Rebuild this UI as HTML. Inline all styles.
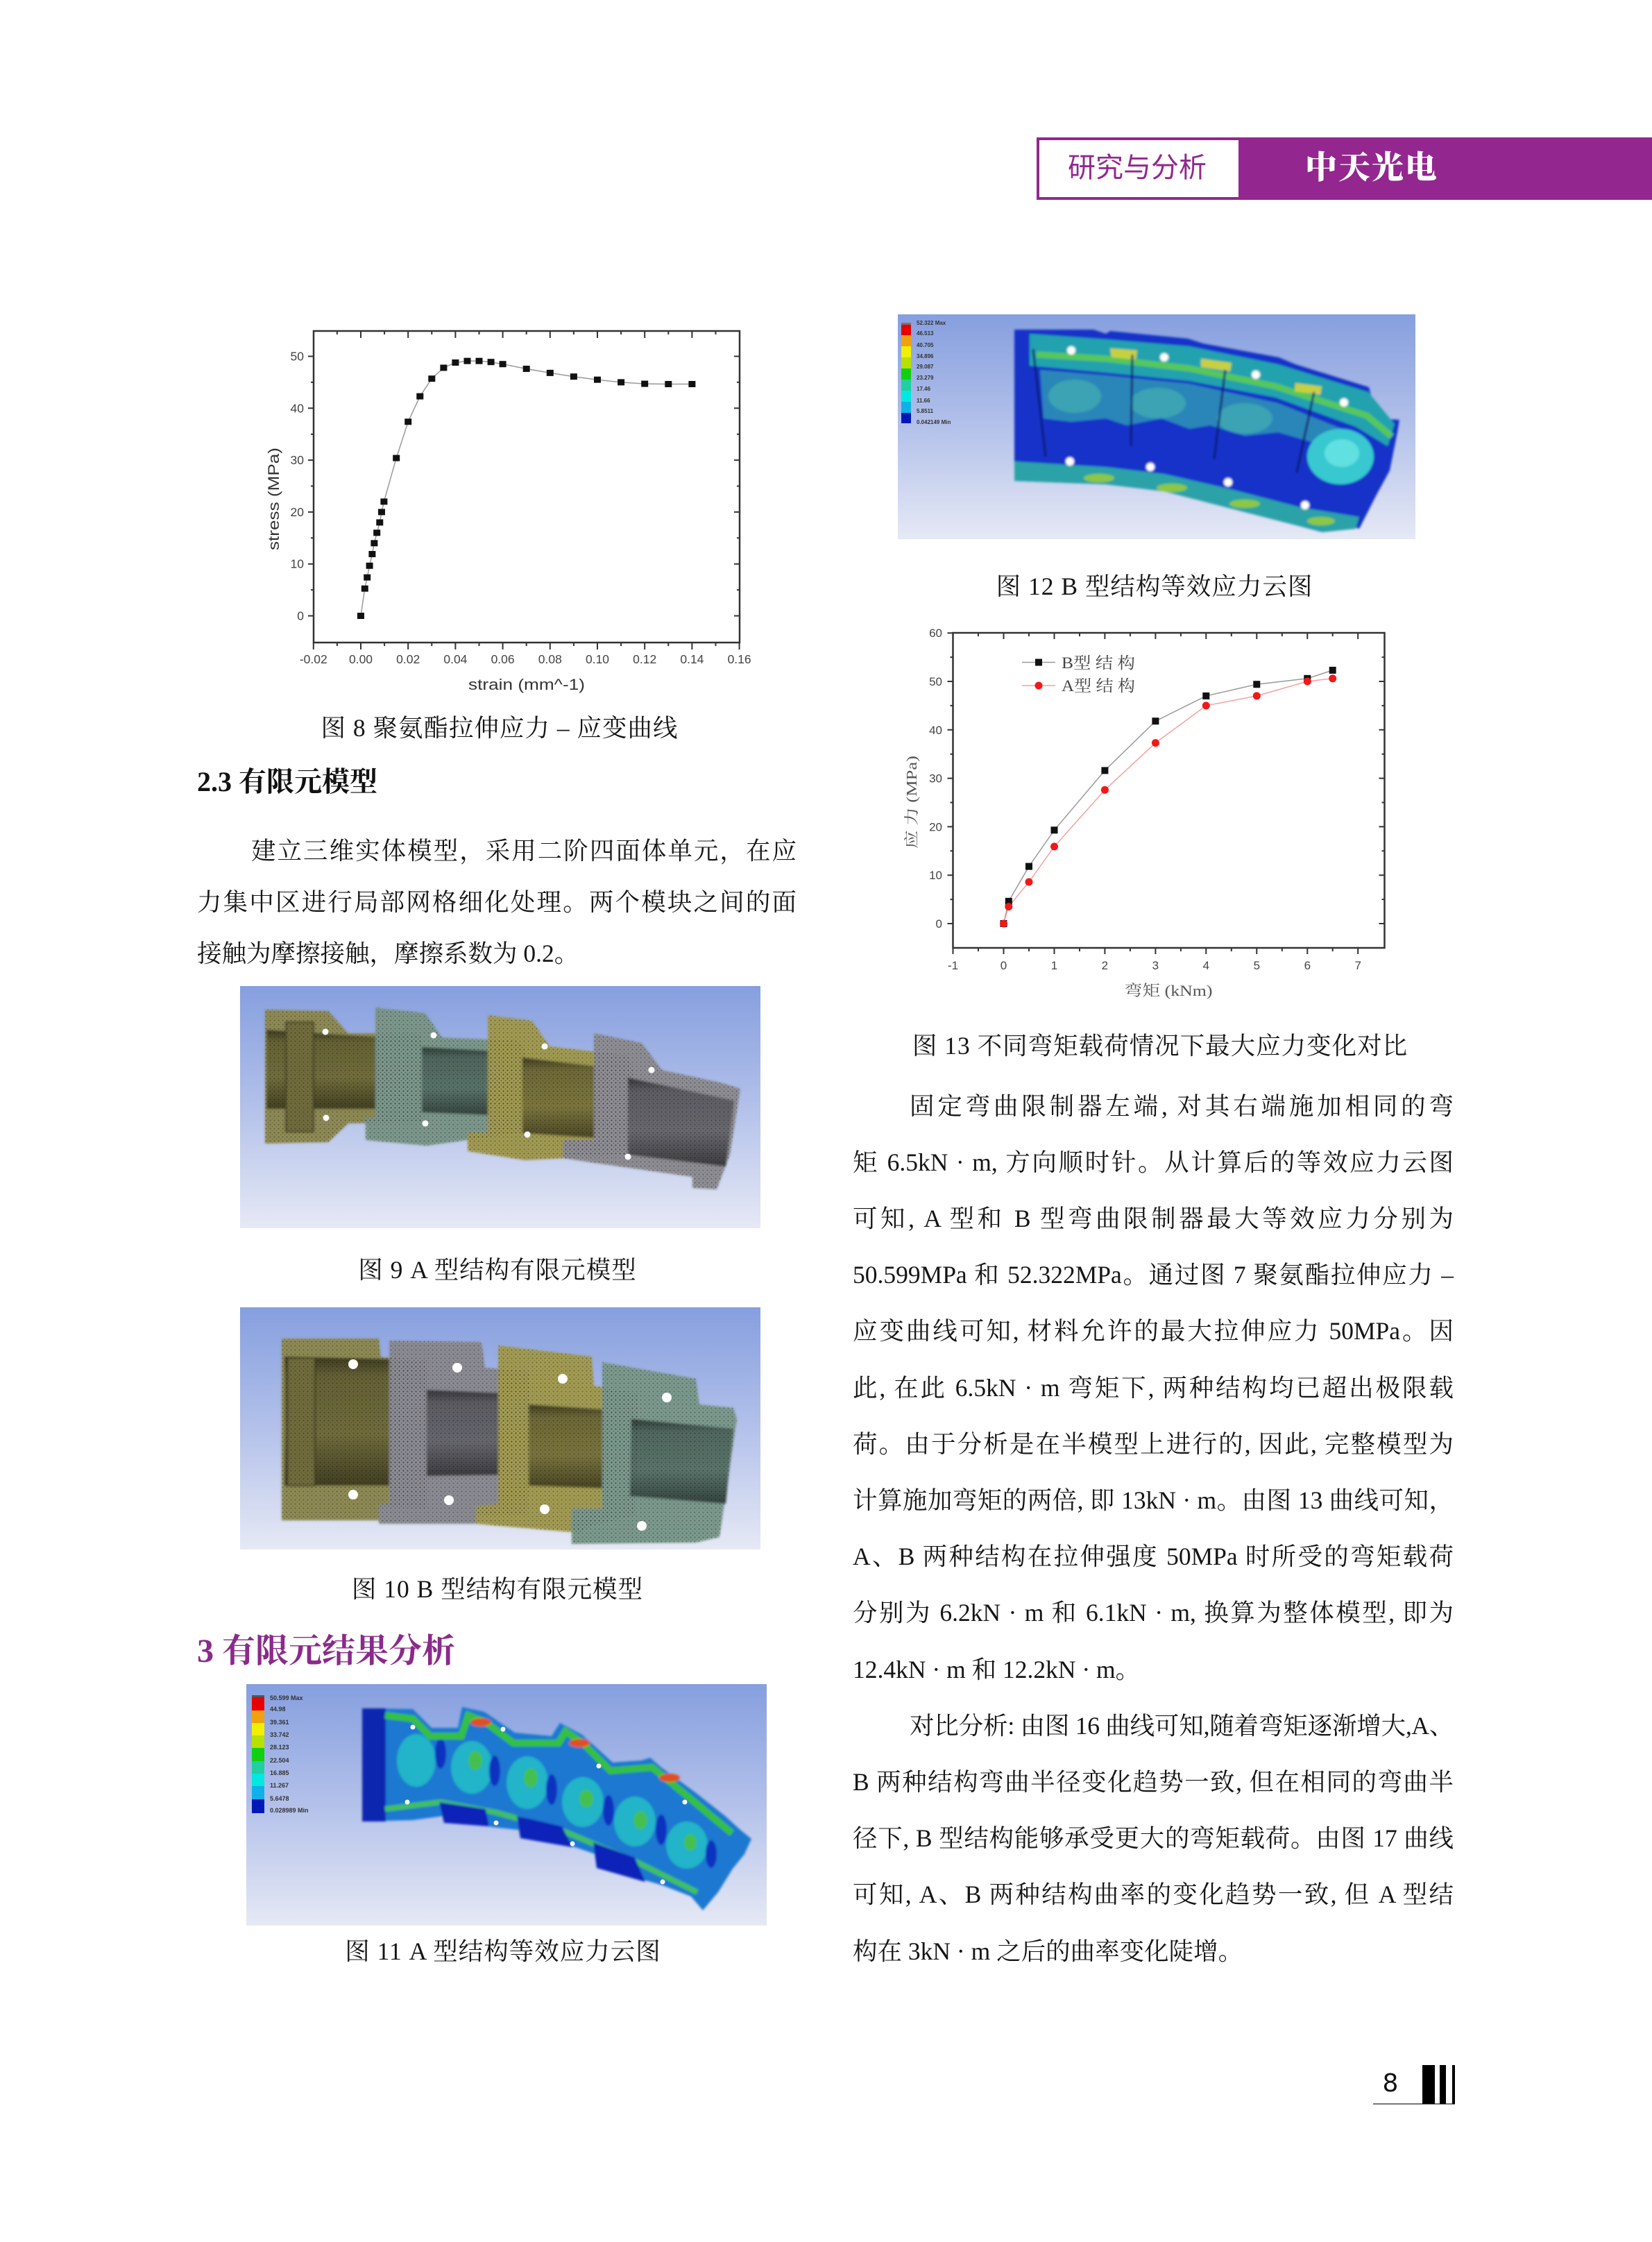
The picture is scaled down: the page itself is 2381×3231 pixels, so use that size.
<!DOCTYPE html>
<html><head><meta charset="utf-8">
<style>
html,body{margin:0;padding:0;background:#fff;}
body{width:2381px;height:3231px;position:relative;overflow:hidden;}
svg.bg{position:absolute;left:0;top:0;}
.t{position:absolute;font-family:"Liberation Serif","Noto Serif CJK SC",serif;font-size:35.5px;line-height:36px;height:36px;color:#151515;white-space:nowrap;}
.j{text-align:justify;text-align-last:justify;}
.L{left:284px;width:864px;}
.Li{left:362px;width:786px;}
.R{left:1229px;width:866px;}
.Ri{left:1311px;width:784px;}
.cap{position:absolute;width:1000px;text-align:center;font-family:"Liberation Serif","Noto Serif CJK SC",serif;font-size:35.5px;line-height:36px;height:36px;letter-spacing:1px;color:#151515;white-space:nowrap;}
.h2{position:absolute;left:284px;font-family:"Liberation Serif","Noto Serif CJK SC",serif;font-weight:bold;font-size:40px;line-height:40px;color:#111;white-space:nowrap;}
.h1{position:absolute;left:284px;font-family:"Liberation Serif","Noto Serif CJK SC",serif;font-weight:bold;font-size:48px;line-height:48px;color:#8a2a8a;white-space:nowrap;}
</style></head>
<body>
<svg class="bg" width="2381" height="3231" viewBox="0 0 2381 3231" xmlns="http://www.w3.org/2000/svg">
<defs>
<linearGradient id="gb" x1="0" y1="0" x2="0" y2="1">
<stop offset="0" stop-color="#869fdf"/><stop offset="0.5" stop-color="#b3c1ea"/><stop offset="1" stop-color="#e6e9f5"/>
</linearGradient>
<linearGradient id="tube" x1="0" y1="0" x2="0" y2="1">
<stop offset="0" stop-color="#000" stop-opacity="0.5"/><stop offset="0.15" stop-color="#000" stop-opacity="0.15"/><stop offset="0.6" stop-color="#000" stop-opacity="0.05"/><stop offset="1" stop-color="#000" stop-opacity="0.45"/>
</linearGradient>
<pattern id="mesh" width="6" height="6" patternUnits="userSpaceOnUse">
<circle cx="1.5" cy="1.5" r="1" fill="#000" opacity="0.35"/><circle cx="4.5" cy="4.5" r="0.8" fill="#000" opacity="0.25"/>
</pattern>
<filter id="bl" x="-5%" y="-5%" width="110%" height="110%"><feGaussianBlur stdDeviation="1.6"/></filter>
</defs>

<!-- header -->
<rect x="1496" y="200" width="291" height="86" fill="#fff" stroke="#93278f" stroke-width="4"/>
<rect x="1787" y="198" width="594" height="90" fill="#93278f"/>
<text x="1639" y="255" text-anchor="middle" font-family="Noto Sans CJK SC, sans-serif" font-size="40" fill="#93278f">研究与分析</text>
<text x="1977" y="257" text-anchor="middle" font-family="Noto Serif CJK SC, serif" font-weight="900" font-size="46" letter-spacing="2" fill="#fff">中天光电</text>

<!-- Figure 8 chart -->
<g>
<rect x="452" y="477" width="614" height="449" fill="none" stroke="#333" stroke-width="2.5"/>
<path d="M451.8,926v10 M520,926v10 M588.2,926v10 M656.4,926v10 M724.6,926v10 M792.8,926v10 M861,926v10 M929.2,926v10 M997.4,926v10 M1065.6,926v10 M485.9,926v5 M554.1,926v5 M622.3,926v5 M690.5,926v5 M758.7,926v5 M826.9,926v5 M895.1,926v5 M963.3,926v5 M1031.5,926v5 M520,477v10 M588.2,477v10 M656.4,477v10 M724.6,477v10 M792.8,477v10 M861,477v10 M929.2,477v10 M997.4,477v10 M485.9,477v5 M554.1,477v5 M622.3,477v5 M690.5,477v5 M758.7,477v5 M826.9,477v5 M895.1,477v5 M963.3,477v5 M1031.5,477v5 M452,887.5h-8 M452,812.7h-8 M452,737.9h-8 M452,663.1h-8 M452,588.3h-8 M452,513.5h-8 M452,850.1h-4 M452,775.3h-4 M452,700.5h-4 M452,625.7h-4 M452,550.9h-4 M1066,887.5h-8 M1066,812.7h-8 M1066,737.9h-8 M1066,663.1h-8 M1066,588.3h-8 M1066,513.5h-8 M1066,850.1h-4 M1066,775.3h-4 M1066,700.5h-4 M1066,625.7h-4 M1066,550.9h-4" stroke="#333" stroke-width="2" fill="none"/>
<g font-family="Liberation Sans, sans-serif" font-size="17.5" fill="#444" text-anchor="middle">
<text x="451.8" y="956">-0.02</text><text x="520" y="956">0.00</text><text x="588.2" y="956">0.02</text><text x="656.4" y="956">0.04</text><text x="724.6" y="956">0.06</text><text x="792.8" y="956">0.08</text><text x="861" y="956">0.10</text><text x="929.2" y="956">0.12</text><text x="997.4" y="956">0.14</text><text x="1065.6" y="956">0.16</text>
</g>
<g font-family="Liberation Sans, sans-serif" font-size="17.5" fill="#444" text-anchor="end">
<text x="438" y="893.5">0</text><text x="438" y="818.7">10</text><text x="438" y="743.9">20</text><text x="438" y="669.1">30</text><text x="438" y="594.3">40</text><text x="438" y="519.5">50</text>
</g>
<text transform="translate(402,719) rotate(-90)" text-anchor="middle" font-family="Liberation Sans, sans-serif" font-size="22" fill="#333" textLength="148" lengthAdjust="spacingAndGlyphs">stress (MPa)</text>
<text x="759" y="994" text-anchor="middle" font-family="Liberation Sans, sans-serif" font-size="22" fill="#333" textLength="168" lengthAdjust="spacingAndGlyphs">strain (mm^-1)</text>
<polyline points="520,887.5 525.8,848.2 529.2,832.1 532.6,815.3 536.4,798.5 539.4,782.8 543.2,767.8 547.3,752.9 550,737.9 553.4,722.9 571.2,660.1 588.2,607.8 605.3,571.1 622.3,545.7 639.4,530 656.4,522.5 673.5,520.2 690.5,520.2 707.6,521.7 724.6,524.7 758.7,531.5 792.8,537.4 826.9,542.7 861,547.2 895.1,550.9 929.2,553.1 963.3,553.5 997.4,553.5" fill="none" stroke="#999" stroke-width="1.5"/>
<g fill="#111">
<rect x="515" y="883" width="10" height="9"/><rect x="520.8" y="843.7" width="10" height="9"/><rect x="524.2" y="827.6" width="10" height="9"/><rect x="527.6" y="810.8" width="10" height="9"/><rect x="531.4" y="794" width="10" height="9"/><rect x="534.4" y="778.3" width="10" height="9"/><rect x="538.2" y="763.3" width="10" height="9"/><rect x="542.3" y="748.4" width="10" height="9"/><rect x="545" y="733.4" width="10" height="9"/><rect x="548.4" y="718.4" width="10" height="9"/><rect x="566.2" y="655.6" width="10" height="9"/><rect x="583.2" y="603.3" width="10" height="9"/><rect x="600.3" y="566.6" width="10" height="9"/><rect x="617.3" y="541.2" width="10" height="9"/><rect x="634.4" y="525.5" width="10" height="9"/><rect x="651.4" y="518" width="10" height="9"/><rect x="668.5" y="515.7" width="10" height="9"/><rect x="685.5" y="515.7" width="10" height="9"/><rect x="702.6" y="517.2" width="10" height="9"/><rect x="719.6" y="520.2" width="10" height="9"/><rect x="753.7" y="527" width="10" height="9"/><rect x="787.8" y="532.9" width="10" height="9"/><rect x="821.9" y="538.2" width="10" height="9"/><rect x="856" y="542.7" width="10" height="9"/><rect x="890.1" y="546.4" width="10" height="9"/><rect x="924.2" y="548.6" width="10" height="9"/><rect x="958.3" y="549" width="10" height="9"/><rect x="992.4" y="549" width="10" height="9"/>
</g>
</g>

<!-- Figure 13 chart -->
<g>
<rect x="1373.5" y="912" width="622" height="454" fill="none" stroke="#333" stroke-width="2.5"/>
<path d="M1373.5,1366v9 M1446.5,1366v9 M1519.5,1366v9 M1592.4,1366v9 M1665.4,1366v9 M1738.3,1366v9 M1811.3,1366v9 M1884.3,1366v9 M1957.2,1366v9 M1410,1366v5 M1483,1366v5 M1556,1366v5 M1628.9,1366v5 M1701.9,1366v5 M1774.8,1366v5 M1847.8,1366v5 M1920.7,1366v5 M1446.5,912v9 M1519.5,912v9 M1592.4,912v9 M1665.4,912v9 M1738.3,912v9 M1811.3,912v9 M1884.3,912v9 M1957.2,912v9 M1410,912v5 M1483,912v5 M1556,912v5 M1628.9,912v5 M1701.9,912v5 M1774.8,912v5 M1847.8,912v5 M1920.7,912v5 M1373.5,1331h-8 M1373.5,1261.2h-8 M1373.5,1191.4h-8 M1373.5,1121.6h-8 M1373.5,1051.8h-8 M1373.5,982h-8 M1373.5,912.2h-8 M1373.5,1296.1h-4 M1373.5,1226.3h-4 M1373.5,1156.5h-4 M1373.5,1086.7h-4 M1373.5,1016.9h-4 M1373.5,947.1h-4 M1995.5,1331h-8 M1995.5,1261.2h-8 M1995.5,1191.4h-8 M1995.5,1121.6h-8 M1995.5,1051.8h-8 M1995.5,982h-8 M1995.5,1296.1h-4 M1995.5,1226.3h-4 M1995.5,1156.5h-4 M1995.5,1086.7h-4 M1995.5,1016.9h-4 M1995.5,947.1h-4" stroke="#333" stroke-width="2" fill="none"/>
<g font-family="Liberation Sans, sans-serif" font-size="17" fill="#444" text-anchor="middle">
<text x="1373.5" y="1397">-1</text><text x="1446.5" y="1397">0</text><text x="1519.5" y="1397">1</text><text x="1592.4" y="1397">2</text><text x="1665.4" y="1397">3</text><text x="1738.3" y="1397">4</text><text x="1811.3" y="1397">5</text><text x="1884.3" y="1397">6</text><text x="1957.2" y="1397">7</text>
</g>
<g font-family="Liberation Sans, sans-serif" font-size="17" fill="#444" text-anchor="end">
<text x="1358" y="1337">0</text><text x="1358" y="1267.2">10</text><text x="1358" y="1197.4">20</text><text x="1358" y="1127.6">30</text><text x="1358" y="1057.8">40</text><text x="1358" y="988">50</text><text x="1358" y="918.2">60</text>
</g>
<text transform="translate(1321,1156) rotate(-90)" text-anchor="middle" font-family="Liberation Serif, Noto Serif CJK SC, serif" font-size="21" fill="#555" textLength="134" lengthAdjust="spacingAndGlyphs">应 力 (MPa)</text>
<text x="1684" y="1435" text-anchor="middle" font-family="Liberation Serif, Noto Serif CJK SC, serif" font-size="22" fill="#555" textLength="127" lengthAdjust="spacingAndGlyphs">弯矩 (kNm)</text>
<polyline points="1446.5,1331 1453.8,1298.9 1483,1248.6 1519.5,1196.3 1592.4,1110.4 1665.4,1039.2 1738.3,1002.9 1811.3,986.2 1884.3,977.8 1920.7,965.9" fill="none" stroke="#999" stroke-width="1.5"/>
<polyline points="1446.5,1331 1453.8,1306.6 1483,1271 1519.5,1220 1592.4,1138.4 1665.4,1070.6 1738.3,1016.9 1811.3,1002.9 1884.3,982 1920.7,977.8" fill="none" stroke="#f4a0a0" stroke-width="1.5"/>
<g fill="#111">
<rect x="1441.5" y="1326" width="10" height="10"/><rect x="1448.8" y="1293.9" width="10" height="10"/><rect x="1478" y="1243.6" width="10" height="10"/><rect x="1514.5" y="1191.3" width="10" height="10"/><rect x="1587.4" y="1105.4" width="10" height="10"/><rect x="1660.4" y="1034.2" width="10" height="10"/><rect x="1733.3" y="997.9" width="10" height="10"/><rect x="1806.3" y="981.2" width="10" height="10"/><rect x="1879.3" y="972.8" width="10" height="10"/><rect x="1915.7" y="960.9" width="10" height="10"/>
</g>
<g fill="#f01818">
<circle cx="1446.5" cy="1331" r="5.5"/><circle cx="1453.8" cy="1306.6" r="5.5"/><circle cx="1483" cy="1271" r="5.5"/><circle cx="1519.5" cy="1220" r="5.5"/><circle cx="1592.4" cy="1138.4" r="5.5"/><circle cx="1665.4" cy="1070.6" r="5.5"/><circle cx="1738.3" cy="1016.9" r="5.5"/><circle cx="1811.3" cy="1002.9" r="5.5"/><circle cx="1884.3" cy="982" r="5.5"/><circle cx="1920.7" cy="977.8" r="5.5"/>
</g>
<line x1="1473" y1="954.5" x2="1521" y2="954.5" stroke="#999" stroke-width="1.5"/>
<rect x="1492" y="949.5" width="10" height="10" fill="#111"/>
<line x1="1473" y1="988" x2="1521" y2="988" stroke="#f4a0a0" stroke-width="1.5"/>
<circle cx="1497" cy="988" r="5.5" fill="#f01818"/>
<text x="1530" y="963" font-family="Liberation Serif, Noto Serif CJK SC, serif" font-size="23" fill="#444" textLength="106" lengthAdjust="spacingAndGlyphs">B型 结 构</text>
<text x="1530" y="996" font-family="Liberation Serif, Noto Serif CJK SC, serif" font-size="23" fill="#444" textLength="106" lengthAdjust="spacingAndGlyphs">A型 结 构</text>
</g>

<!-- Figure 12 image -->
<g transform="translate(1294,453)">
<rect width="746" height="324" fill="url(#gb)"/>
<rect x="5" y="12" width="14" height="3" fill="#777"/>
<rect x="5" y="15" width="14" height="15" fill="#e80000"/>
<rect x="5" y="30" width="14" height="16" fill="#f0a010"/>
<rect x="5" y="46" width="14" height="16" fill="#f0f000"/>
<rect x="5" y="62" width="14" height="16" fill="#b8e000"/>
<rect x="5" y="78" width="14" height="16" fill="#10d010"/>
<rect x="5" y="94" width="14" height="16" fill="#20d0a0"/>
<rect x="5" y="110" width="14" height="16" fill="#00e8e0"/>
<rect x="5" y="126" width="14" height="16" fill="#10b0e8"/>
<rect x="5" y="142" width="14" height="15" fill="#0018b8"/>
<g font-family="Liberation Sans, sans-serif" font-size="8" font-weight="bold" fill="#333">
<text x="27" y="15">52.322 Max</text><text x="27" y="30">46.513</text><text x="27" y="47">40.705</text><text x="27" y="63">34.896</text><text x="27" y="78">29.087</text><text x="27" y="94">23.279</text><text x="27" y="110">17.46</text><text x="27" y="127">11.66</text><text x="27" y="142">5.8511</text><text x="27" y="158">0.042149 Min</text>
</g>
<g filter="url(#bl)">
<path d="M168,22 L282,22 L300,28 L306,24 L418,35 L440,42 L549,62 L573,72 L679,105 L690,150 L723,152 L720,170 L709,225 L690,260 L665,309 L640,300 L612,314 L578,305 L384,255 L300,245 L168,240 Z" fill="#1230c8"/>
<path d="M190,28 L300,36 L420,46 L548,72 L678,112 L716,158 L706,190 L660,162 L545,120 L420,96 L300,84 L190,74 Z" fill="#23a2ae"/>
<path d="M205,80 L300,88 L420,100 L548,128 L640,165 L600,185 L548,170 L500,175 L450,160 L420,165 L380,150 L330,160 L300,150 L250,155 L210,150 Z" fill="#2a86b8"/>
<ellipse cx="255" cy="118" rx="38" ry="24" fill="#3aa3b4"/>
<ellipse cx="375" cy="128" rx="40" ry="22" fill="#3aa3b4"/>
<ellipse cx="500" cy="150" rx="40" ry="22" fill="#3aa3b4"/>
<polyline points="200,58 300,64 420,78 545,104 676,146 712,176" stroke="#56c85a" stroke-width="9" fill="none"/>
<path d="M306,49 L345,52 L343,65 L308,62 Z M437,64 L481,70 L479,82 L437,76 Z M573,99 L611,104 L609,116 L572,111 Z" fill="#c8d040"/>
<ellipse cx="638" cy="205" rx="48" ry="40" fill="#38c8d0"/>
<ellipse cx="640" cy="200" rx="25" ry="20" fill="#60e0e0"/>
<path d="M168,212 L300,220 L384,230 L480,252 L580,278 L665,292 L660,309 L612,314 L578,305 L384,255 L300,245 L168,240 Z" fill="#2ca2a8"/>
<g fill="#8cc840">
<ellipse cx="290" cy="236" rx="22" ry="6"/><ellipse cx="395" cy="250" rx="22" ry="6"/><ellipse cx="500" cy="273" rx="22" ry="6"/><ellipse cx="610" cy="298" rx="20" ry="6"/>
</g>
<g stroke="#0a1a70" stroke-width="3">
<line x1="195" y1="50" x2="213" y2="205"/><line x1="338" y1="58" x2="336" y2="190"/><line x1="472" y1="80" x2="456" y2="208"/><line x1="600" y1="112" x2="575" y2="228"/>
</g>
<g fill="#fff">
<circle cx="250" cy="52" r="6"/><circle cx="384" cy="62" r="6"/><circle cx="516" cy="87" r="6"/><circle cx="643" cy="127" r="6"/><circle cx="248" cy="212" r="6"/><circle cx="364" cy="220" r="6"/><circle cx="476" cy="242" r="6"/><circle cx="587" cy="275" r="6"/>
</g>
</g>
</g>

<!-- Figure 9 image -->
<g transform="translate(346,1421)">
<rect width="750" height="349" fill="url(#gb)"/>
<g filter="url(#bl)">
<polygon points="36,34 127,36 156,68 249,68 262,72 262,196 156,198 127,225 36,227" fill="#8e8a55"/>
<polygon points="38,63 262,78 262,177 38,177" fill="#77733f"/>
<polygon points="38,63 262,78 262,177 38,177" fill="url(#tube)"/>
<rect x="66" y="52" width="40" height="158" fill="#6f6c3c" stroke="#3a381f" stroke-width="2"/>
<polygon points="195,31 267,39 291,74 402,79 412,95 407,211 269,230 181,222 181,190 195,190" fill="#7b978b"/>
<polygon points="262,88 409,96 409,188 262,182" fill="#5d786e"/>
<polygon points="262,88 409,96 409,188 262,182" fill="url(#tube)"/>
<polygon points="357,42 421,50 446,87 559,100 566,121 561,243 411,251 328,238 328,211 357,211" fill="#a19a52"/>
<polygon points="407,103 564,122 562,222 407,212" fill="#827b40"/>
<polygon points="407,103 564,122 562,222 407,212" fill="url(#tube)"/>
<polygon points="510,68 579,82 608,121 696,140 721,148 716,180 706,243 687,293 652,291 652,275 505,254 466,248 466,222 510,222" fill="#8d8d93"/>
<polygon points="559,132 712,165 700,260 559,243" fill="#6d6d74"/>
<polygon points="559,132 712,165 700,260 559,243" fill="url(#tube)"/>
</g>
<polygon points="36,34 127,36 156,68 249,68 262,72 262,196 156,198 127,225 36,227" fill="url(#mesh)"/>
<polygon points="195,31 267,39 291,74 402,79 412,95 407,211 269,230 181,222 181,190 195,190" fill="url(#mesh)"/>
<polygon points="357,42 421,50 446,87 559,100 566,121 561,243 411,251 328,238 328,211 357,211" fill="url(#mesh)"/>
<polygon points="510,68 579,82 608,121 696,140 721,148 716,180 706,243 687,293 652,291 652,275 505,254 466,248 466,222 510,222" fill="url(#mesh)"/>
<g fill="#fff">
<circle cx="123" cy="66" r="4.5"/><circle cx="124" cy="190" r="4.5"/><circle cx="279" cy="71" r="4.5"/><circle cx="267" cy="198" r="4.5"/><circle cx="439" cy="87" r="4.5"/><circle cx="414" cy="214" r="4.5"/><circle cx="593" cy="121" r="4.5"/><circle cx="559" cy="246" r="4.5"/>
</g>
</g>

<!-- Figure 10 image -->
<g transform="translate(346,1884)">
<rect width="750" height="349" fill="url(#gb)"/>
<g filter="url(#bl)">
<polygon points="60,45 200,45 203,72 270,76 270,290 203,288 200,307 60,307" fill="#8e8a55"/>
<polygon points="64,71 269,76 269,257 64,257" fill="#76723f"/>
<polygon points="64,71 269,76 269,257 64,257" fill="url(#tube)"/>
<rect x="68" y="73" width="40" height="184" fill="#6f6c3c" stroke="#3a381f" stroke-width="2"/>
<polygon points="215,48 348,50 353,87 417,92 415,300 340,300 340,312 200,312 200,285 215,283" fill="#8b8b93"/>
<polygon points="269,119 411,125 411,241 269,243" fill="#6c6c74"/>
<polygon points="269,119 411,125 411,241 269,243" fill="url(#tube)"/>
<polygon points="372,55 507,71 510,113 574,124 570,300 505,315 490,325 340,312 340,287 372,283" fill="#a29b52"/>
<polygon points="416,140 566,150 564,262 416,257" fill="#807a40"/>
<polygon points="416,140 566,150 564,262 416,257" fill="url(#tube)"/>
<polygon points="522,79 657,103 662,140 711,145 716,161 691,331 657,339 478,341 478,290 522,290" fill="#7c998d"/>
<polygon points="564,161 711,175 700,283 562,272" fill="#5f7a70"/>
<polygon points="564,161 711,175 700,283 562,272" fill="url(#tube)"/>
</g>
<polygon points="60,45 200,45 203,72 270,76 270,290 203,288 200,307 60,307" fill="url(#mesh)"/>
<polygon points="215,48 348,50 353,87 417,92 415,300 340,300 340,312 200,312 200,285 215,283" fill="url(#mesh)"/>
<polygon points="372,55 507,71 510,113 574,124 570,300 505,315 490,325 340,312 340,287 372,283" fill="url(#mesh)"/>
<polygon points="522,79 657,103 662,140 711,145 716,161 691,331 657,339 478,341 478,290 522,290" fill="url(#mesh)"/>
<g fill="#fff">
<circle cx="163" cy="82" r="7"/><circle cx="313" cy="87" r="7"/><circle cx="465" cy="103" r="7"/><circle cx="615" cy="130" r="7"/><circle cx="163" cy="270" r="7"/><circle cx="301" cy="278" r="7"/><circle cx="439" cy="291" r="7"/><circle cx="579" cy="315" r="7"/>
</g>
</g>

<!-- Figure 11 image -->
<g transform="translate(355,2427)">
<rect width="750" height="348" fill="url(#gb)"/>
<rect x="8" y="16" width="18" height="3" fill="#555"/>
<rect x="8" y="19" width="18" height="19" fill="#e80000"/>
<rect x="8" y="38" width="18" height="18" fill="#f0a010"/>
<rect x="8" y="56" width="18" height="18" fill="#f0f000"/>
<rect x="8" y="74" width="18" height="18" fill="#b8e000"/>
<rect x="8" y="92" width="18" height="19" fill="#10d010"/>
<rect x="8" y="111" width="18" height="18" fill="#20d0a0"/>
<rect x="8" y="129" width="18" height="18" fill="#00e8e0"/>
<rect x="8" y="147" width="18" height="19" fill="#10b0e8"/>
<rect x="8" y="166" width="18" height="20" fill="#0018b8"/>
<g font-family="Liberation Sans, sans-serif" font-size="9" font-weight="bold" fill="#333">
<text x="34" y="23">50.599 Max</text><text x="34" y="39">44.98</text><text x="34" y="58">39.361</text><text x="34" y="76">33.742</text><text x="34" y="94">28.123</text><text x="34" y="113">22.504</text><text x="34" y="131">16.885</text><text x="34" y="149">11.267</text><text x="34" y="168">5.6478</text><text x="34" y="185">0.028989 Min</text>
</g>
<g filter="url(#bl)">
<path d="M167,35 L240,36 L267,63 L305,63 L311,33 L343,40 L387,70 L440,75 L452,56 L484,73 L528,113 L570,110 L582,106 L598,120 L647,156 L690,190 L712,210 L728,223 L718,245 L701,266 L680,300 L658,326 L641,306 L600,290 L565,280 L506,246 L468,233 L392,210 L354,206 L284,190 L240,196 L167,198 Z" fill="#1c78d0"/>
<rect x="167" y="35" width="34" height="163" fill="#0c28b0"/>
<g fill="#22b4c8">
<ellipse cx="245" cy="110" rx="28" ry="38"/><ellipse cx="325" cy="120" rx="30" ry="38"/><ellipse cx="405" cy="142" rx="30" ry="38"/><ellipse cx="485" cy="170" rx="30" ry="36"/><ellipse cx="560" cy="198" rx="30" ry="36"/><ellipse cx="635" cy="232" rx="30" ry="34"/>
</g>
<g fill="#44c050">
<ellipse cx="330" cy="110" rx="10" ry="14"/><ellipse cx="410" cy="135" rx="10" ry="14"/><ellipse cx="490" cy="165" rx="10" ry="13"/><ellipse cx="568" cy="196" rx="10" ry="13"/><ellipse cx="640" cy="228" rx="9" ry="12"/>
</g>
<g fill="#0a30c0">
<ellipse cx="280" cy="100" rx="8" ry="22"/><ellipse cx="358" cy="125" rx="8" ry="22"/><ellipse cx="440" cy="152" rx="8" ry="22"/><ellipse cx="522" cy="182" rx="8" ry="22"/><ellipse cx="598" cy="210" rx="8" ry="22"/><ellipse cx="670" cy="245" rx="8" ry="20"/>
</g>
<polyline points="200,45 240,50 265,75 310,75 320,45 345,55 385,85 450,85 460,68 485,85 525,125 585,120 640,165 700,215" stroke="#34c040" stroke-width="10" fill="none"/>
<g fill="#e05020">
<ellipse cx="338" cy="55" rx="15" ry="6"/><ellipse cx="480" cy="85" rx="15" ry="6"/><ellipse cx="610" cy="135" rx="15" ry="6"/>
</g>
<polyline points="200,180 280,170 360,185 460,213 560,255 650,300" stroke="#40c060" stroke-width="8" fill="none"/>
<g fill="#0d24b8">
<path d="M278,170 L345,180 L350,205 L285,200 Z"/><path d="M390,190 L455,205 L470,235 L395,222 Z"/><path d="M500,228 L560,250 L575,285 L505,265 Z"/>
</g>
</g>
<g fill="#fff">
<circle cx="240" cy="62" r="3.5"/><circle cx="232" cy="170" r="3.5"/><circle cx="370" cy="65" r="3.5"/><circle cx="360" cy="200" r="3.5"/><circle cx="508" cy="118" r="3.5"/><circle cx="470" cy="230" r="3.5"/><circle cx="632" cy="170" r="3.5"/><circle cx="600" cy="285" r="3.5"/>
</g>
</g>

<!-- page number -->
<text x="2004" y="3014" text-anchor="middle" font-family="DejaVu Sans, sans-serif" font-size="36" fill="#111">8</text>
<rect x="1979" y="3031" width="118" height="2" fill="#777"/>
<rect x="2050" y="2976" width="18" height="56" fill="#000"/>
<rect x="2075" y="2976" width="9" height="56" fill="#000"/>
<rect x="2093" y="2976" width="4" height="56" fill="#000"/>
</svg>

<!-- left column -->
<div class="cap" style="left:220px;top:1030.5px;">图 8 聚氨酯拉伸应力 – 应变曲线</div>
<div class="h2" style="top:1107px;">2.3 有限元模型</div>
<div class="t j Li" style="top:1207.5px;">建立三维实体模型，采用二阶四面体单元，在应</div>
<div class="t j L" style="top:1281.5px;">力集中区进行局部网格细化处理。两个模块之间的面</div>
<div class="t L" style="top:1355.5px;">接触为摩擦接触，摩擦系数为 0.2。</div>
<div class="cap" style="left:217px;top:1811.5px;">图 9 A 型结构有限元模型</div>
<div class="cap" style="left:217px;top:2271.5px;">图 10 B 型结构有限元模型</div>
<div class="h1" style="top:2356px;">3 有限元结果分析</div>
<div class="cap" style="left:225px;top:2793.5px;">图 11 A 型结构等效应力云图</div>

<!-- right column -->
<div class="cap" style="left:1164px;top:826.5px;">图 12 B 型结构等效应力云图</div>
<div class="cap" style="left:1172px;top:1488.5px;">图 13 不同弯矩载荷情况下最大应力变化对比</div>
<div class="t j Ri" style="top:1575.5px;">固定弯曲限制器左端, 对其右端施加相同的弯</div>
<div class="t j R" style="top:1656.7px;">矩 6.5kN · m, 方向顺时针。从计算后的等效应力云图</div>
<div class="t j R" style="top:1737.9px;">可知, A 型和 B 型弯曲限制器最大等效应力分别为</div>
<div class="t j R" style="top:1819.1px;">50.599MPa 和 52.322MPa。通过图 7 聚氨酯拉伸应力 –</div>
<div class="t j R" style="top:1900.3px;">应变曲线可知, 材料允许的最大拉伸应力 50MPa。因</div>
<div class="t j R" style="top:1981.5px;">此, 在此 6.5kN · m 弯矩下, 两种结构均已超出极限载</div>
<div class="t j R" style="top:2062.7px;">荷。由于分析是在半模型上进行的, 因此, 完整模型为</div>
<div class="t j R" style="top:2143.9px;">计算施加弯矩的两倍, 即 13kN · m。由图 13 曲线可知，</div>
<div class="t j R" style="top:2225.1px;">A、B 两种结构在拉伸强度 50MPa 时所受的弯矩载荷</div>
<div class="t j R" style="top:2306.3px;">分别为 6.2kN · m 和 6.1kN · m, 换算为整体模型, 即为</div>
<div class="t R" style="top:2387.5px;">12.4kN · m 和 12.2kN · m。</div>
<div class="t j Ri" style="top:2468.7px;letter-spacing:-0.4px;">对比分析: 由图 16 曲线可知,随着弯矩逐渐增大,A、</div>
<div class="t j R" style="top:2549.9px;">B 两种结构弯曲半径变化趋势一致, 但在相同的弯曲半</div>
<div class="t j R" style="top:2631.1px;">径下, B 型结构能够承受更大的弯矩载荷。由图 17 曲线</div>
<div class="t j R" style="top:2712.3px;">可知, A、B 两种结构曲率的变化趋势一致, 但 A 型结</div>
<div class="t R" style="top:2793.5px;">构在 3kN · m 之后的曲率变化陡增。</div>
</body></html>
